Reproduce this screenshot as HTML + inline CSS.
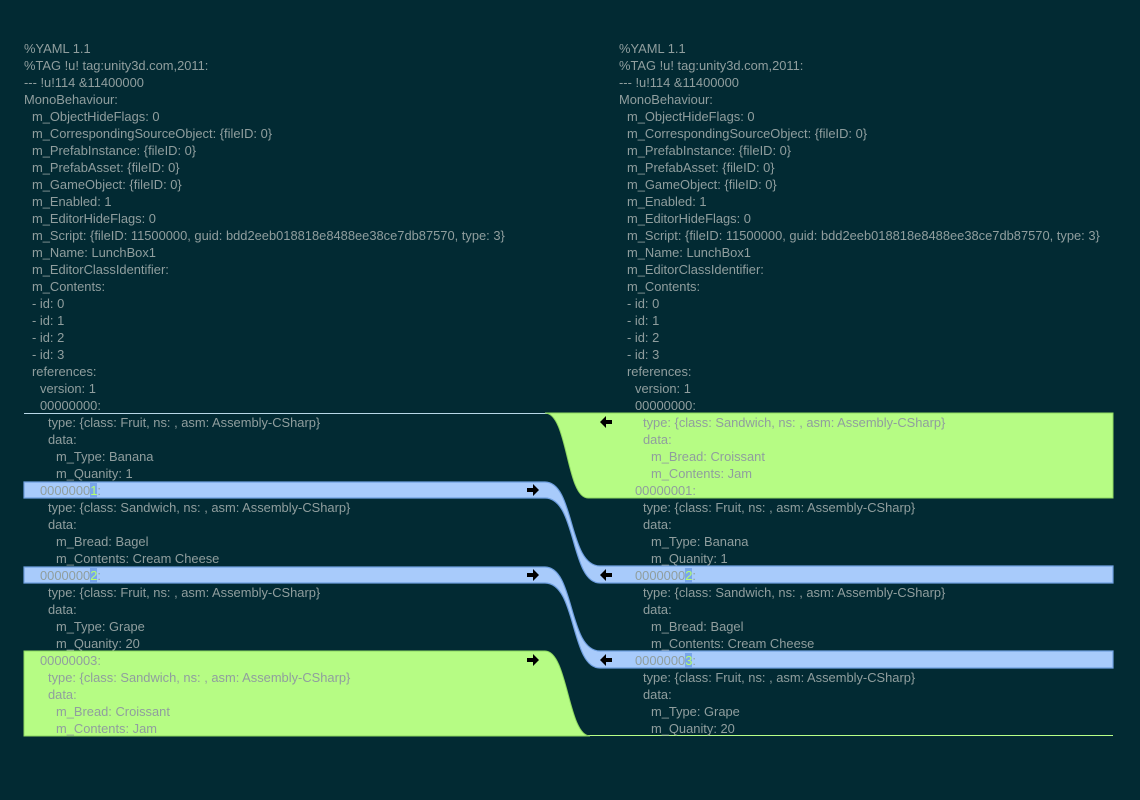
<!DOCTYPE html>
<html><head><meta charset="utf-8"><style>
body{margin:0;width:1140px;height:800px;background:#022a33;overflow:hidden;position:relative;font-family:"Liberation Sans",sans-serif;font-size:12.9px;color:#909e9e}
svg{position:absolute;left:0;top:0}
.c{position:absolute;top:0px}
.l{position:absolute;height:17px;line-height:17px;white-space:pre}
.h{background:#7aa6ea;color:#b6ff6e}
</style></head><body>
<svg width="1140" height="800">
<defs>
<path id="ar" d="M-6,-2 L0,-2 L0,-6 L6,0 L0,6 L0,2 L-6,2 Z" fill="#000"/>
</defs>
<line x1="24" y1="413.5" x2="548" y2="413.5" stroke="#b8d8e8" stroke-width="1"/>
<line x1="588" y1="735.5" x2="1113" y2="735.5" stroke="#b8ff88" stroke-width="1"/>
<path d="M545,413 L1113,413 L1113,498 L588,498 C566,498 568,413 545,413 Z" fill="#b6fc84" stroke="#8ed860" stroke-width="1"/>
<path d="M24,651 L545,651 C568,651 568,736 590,736 L24,736 Z" fill="#b6fc84" stroke="#8ed860" stroke-width="1"/>
<path d="M24,482 L545,482 C575,482 568,566 600,566 L1113,566 L1113,583 L600,583 C570,583 577,498 545,498 L24,498 Z" fill="#a8cbfb" stroke="#6f9fe0" stroke-width="1.2"/>
<path d="M24,567 L545,567 C575,567 568,651 600,651 L1113,651 L1113,668 L600,668 C570,668 577,583 545,583 L24,583 Z" fill="#a8cbfb" stroke="#6f9fe0" stroke-width="1.2"/>
<use href="#ar" x="533" y="490"/>
<use href="#ar" x="533" y="575"/>
<use href="#ar" x="533" y="660"/>
<use href="#ar" transform="translate(606,422) scale(-1,1)"/>
<use href="#ar" transform="translate(606,575) scale(-1,1)"/>
<use href="#ar" transform="translate(606,660) scale(-1,1)"/>
</svg>

<div class="c" style="left:24px">
<div class="l" style="top:40px">%YAML 1.1</div>
<div class="l" style="top:57px">%TAG !u! tag:unity3d.com,2011:</div>
<div class="l" style="top:74px">--- !u!114 &amp;11400000</div>
<div class="l" style="top:91px">MonoBehaviour:</div>
<div class="l" style="top:108px;left:8px">m_ObjectHideFlags: 0</div>
<div class="l" style="top:125px;left:8px">m_CorrespondingSourceObject: {fileID: 0}</div>
<div class="l" style="top:142px;left:8px">m_PrefabInstance: {fileID: 0}</div>
<div class="l" style="top:159px;left:8px">m_PrefabAsset: {fileID: 0}</div>
<div class="l" style="top:176px;left:8px">m_GameObject: {fileID: 0}</div>
<div class="l" style="top:193px;left:8px">m_Enabled: 1</div>
<div class="l" style="top:210px;left:8px">m_EditorHideFlags: 0</div>
<div class="l" style="top:227px;left:8px">m_Script: {fileID: 11500000, guid: bdd2eeb018818e8488ee38ce7db87570, type: 3}</div>
<div class="l" style="top:244px;left:8px">m_Name: LunchBox1</div>
<div class="l" style="top:261px;left:8px">m_EditorClassIdentifier: </div>
<div class="l" style="top:278px;left:8px">m_Contents:</div>
<div class="l" style="top:295px;left:8px">- id: 0</div>
<div class="l" style="top:312px;left:8px">- id: 1</div>
<div class="l" style="top:329px;left:8px">- id: 2</div>
<div class="l" style="top:346px;left:8px">- id: 3</div>
<div class="l" style="top:363px;left:8px">references:</div>
<div class="l" style="top:380px;left:16px">version: 1</div>
<div class="l" style="top:397px;left:16px">00000000:</div>
<div class="l" style="top:414px;left:24px">type: {class: Fruit, ns: , asm: Assembly-CSharp}</div>
<div class="l" style="top:431px;left:24px">data:</div>
<div class="l" style="top:448px;left:32px">m_Type: Banana</div>
<div class="l" style="top:465px;left:32px">m_Quanity: 1</div>
<div class="l" style="top:482px;left:16px">0000000<span class="h">1</span>:</div>
<div class="l" style="top:499px;left:24px">type: {class: Sandwich, ns: , asm: Assembly-CSharp}</div>
<div class="l" style="top:516px;left:24px">data:</div>
<div class="l" style="top:533px;left:32px">m_Bread: Bagel</div>
<div class="l" style="top:550px;left:32px">m_Contents: Cream Cheese</div>
<div class="l" style="top:567px;left:16px">0000000<span class="h">2</span>:</div>
<div class="l" style="top:584px;left:24px">type: {class: Fruit, ns: , asm: Assembly-CSharp}</div>
<div class="l" style="top:601px;left:24px">data:</div>
<div class="l" style="top:618px;left:32px">m_Type: Grape</div>
<div class="l" style="top:635px;left:32px">m_Quanity: 20</div>
<div class="l" style="top:652px;left:16px">00000003:</div>
<div class="l" style="top:669px;left:24px">type: {class: Sandwich, ns: , asm: Assembly-CSharp}</div>
<div class="l" style="top:686px;left:24px">data:</div>
<div class="l" style="top:703px;left:32px">m_Bread: Croissant</div>
<div class="l" style="top:720px;left:32px">m_Contents: Jam</div>
</div>

<div class="c" style="left:619px">
<div class="l" style="top:40px">%YAML 1.1</div>
<div class="l" style="top:57px">%TAG !u! tag:unity3d.com,2011:</div>
<div class="l" style="top:74px">--- !u!114 &amp;11400000</div>
<div class="l" style="top:91px">MonoBehaviour:</div>
<div class="l" style="top:108px;left:8px">m_ObjectHideFlags: 0</div>
<div class="l" style="top:125px;left:8px">m_CorrespondingSourceObject: {fileID: 0}</div>
<div class="l" style="top:142px;left:8px">m_PrefabInstance: {fileID: 0}</div>
<div class="l" style="top:159px;left:8px">m_PrefabAsset: {fileID: 0}</div>
<div class="l" style="top:176px;left:8px">m_GameObject: {fileID: 0}</div>
<div class="l" style="top:193px;left:8px">m_Enabled: 1</div>
<div class="l" style="top:210px;left:8px">m_EditorHideFlags: 0</div>
<div class="l" style="top:227px;left:8px">m_Script: {fileID: 11500000, guid: bdd2eeb018818e8488ee38ce7db87570, type: 3}</div>
<div class="l" style="top:244px;left:8px">m_Name: LunchBox1</div>
<div class="l" style="top:261px;left:8px">m_EditorClassIdentifier: </div>
<div class="l" style="top:278px;left:8px">m_Contents:</div>
<div class="l" style="top:295px;left:8px">- id: 0</div>
<div class="l" style="top:312px;left:8px">- id: 1</div>
<div class="l" style="top:329px;left:8px">- id: 2</div>
<div class="l" style="top:346px;left:8px">- id: 3</div>
<div class="l" style="top:363px;left:8px">references:</div>
<div class="l" style="top:380px;left:16px">version: 1</div>
<div class="l" style="top:397px;left:16px">00000000:</div>
<div class="l" style="top:414px;left:24px">type: {class: Sandwich, ns: , asm: Assembly-CSharp}</div>
<div class="l" style="top:431px;left:24px">data:</div>
<div class="l" style="top:448px;left:32px">m_Bread: Croissant</div>
<div class="l" style="top:465px;left:32px">m_Contents: Jam</div>
<div class="l" style="top:482px;left:16px">00000001:</div>
<div class="l" style="top:499px;left:24px">type: {class: Fruit, ns: , asm: Assembly-CSharp}</div>
<div class="l" style="top:516px;left:24px">data:</div>
<div class="l" style="top:533px;left:32px">m_Type: Banana</div>
<div class="l" style="top:550px;left:32px">m_Quanity: 1</div>
<div class="l" style="top:567px;left:16px">0000000<span class="h">2</span>:</div>
<div class="l" style="top:584px;left:24px">type: {class: Sandwich, ns: , asm: Assembly-CSharp}</div>
<div class="l" style="top:601px;left:24px">data:</div>
<div class="l" style="top:618px;left:32px">m_Bread: Bagel</div>
<div class="l" style="top:635px;left:32px">m_Contents: Cream Cheese</div>
<div class="l" style="top:652px;left:16px">0000000<span class="h">3</span>:</div>
<div class="l" style="top:669px;left:24px">type: {class: Fruit, ns: , asm: Assembly-CSharp}</div>
<div class="l" style="top:686px;left:24px">data:</div>
<div class="l" style="top:703px;left:32px">m_Type: Grape</div>
<div class="l" style="top:720px;left:32px">m_Quanity: 20</div>
</div>
</body></html>
